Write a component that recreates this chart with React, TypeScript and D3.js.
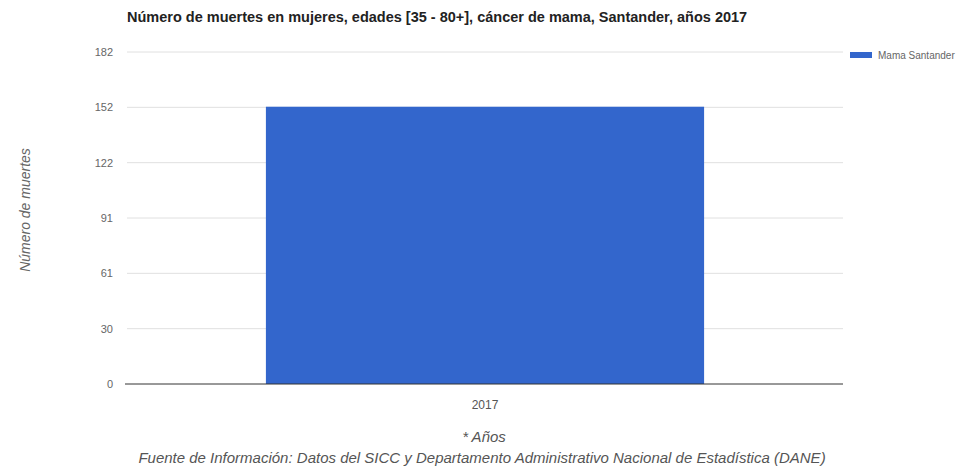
import React from "react";
import * as d3 from "d3";

const title = "Número de muertes en mujeres, edades [35 - 80+], cáncer de mama, Santander, años 2017";
const categories = ["2017"];
const seriesName = "Mama Santander";
const values = [152];
const yMax = 182;
const tickLabels = ["0", "30", "61", "91", "122", "152", "182"];
const yTitle = "Número de muertes";
const xTitle = "* Años";
const source = "Fuente de Información: Datos del SICC  y Departamento Administrativo Nacional de Estadística (DANE)";

const W = 961, H = 467;
const left = 127, right = 843, top = 52, bottom = 384;
const FONT = "Arial, 'Liberation Sans', sans-serif";

export default function App() {
  const x = d3.scaleBand<string>().domain(categories).range([left, right]).paddingInner(0.388).paddingOuter(0.194);
  const y = d3.scaleLinear().domain([0, yMax]).range([bottom, top]);
  const ticks = tickLabels.map((t, i) => ({ label: t, v: (yMax * i) / (tickLabels.length - 1) }));
  return (
    <svg width={W} height={H} style={{ position: "absolute", left: 0, top: 0, background: "#fff" }} fontFamily={FONT}>
      <text x={127} y={22} fontSize={14.5} fontWeight="bold" fill="#222">{title}</text>
      {ticks.map((t, i) => (
        <g key={i}>
          {i > 0 && <line x1={left} x2={right} y1={y(t.v)} y2={y(t.v)} stroke="#e0e0e0" strokeWidth={1} />}
          <text x={113} y={y(t.v)} dy="0.35em" textAnchor="end" fontSize={11} fill="#666">{t.label}</text>
        </g>
      ))}
      {categories.map((c, i) => (
        <g key={c}>
          <rect x={x(c)} y={y(values[i])} width={x.bandwidth()} height={y(0) - y(values[i])} fill="#3366cc" />
          <text x={(x(c) as number) + x.bandwidth() / 2} y={409} textAnchor="middle" fontSize={12} fill="#555">{c}</text>
        </g>
      ))}
      <line x1={left - 2} x2={right} y1={y(0)} y2={y(0)} stroke="#333" strokeWidth={1} />
      <text transform={`translate(30,${210}) rotate(-90)`} textAnchor="middle" fontSize={14} fontStyle="italic" fill="#666">{yTitle}</text>
      <text x={484} y={442} textAnchor="middle" fontSize={15} fontStyle="italic" fill="#555">{xTitle}</text>
      <text x={482} y={463} textAnchor="middle" fontSize={15} fontStyle="italic" fill="#555">{source}</text>
      <rect x={850} y={52} width={22} height={6} fill="#3366cc" />
      <text x={878} y={55} dy="0.35em" fontSize={10} fill="#666">{seriesName}</text>
    </svg>
  );
}
